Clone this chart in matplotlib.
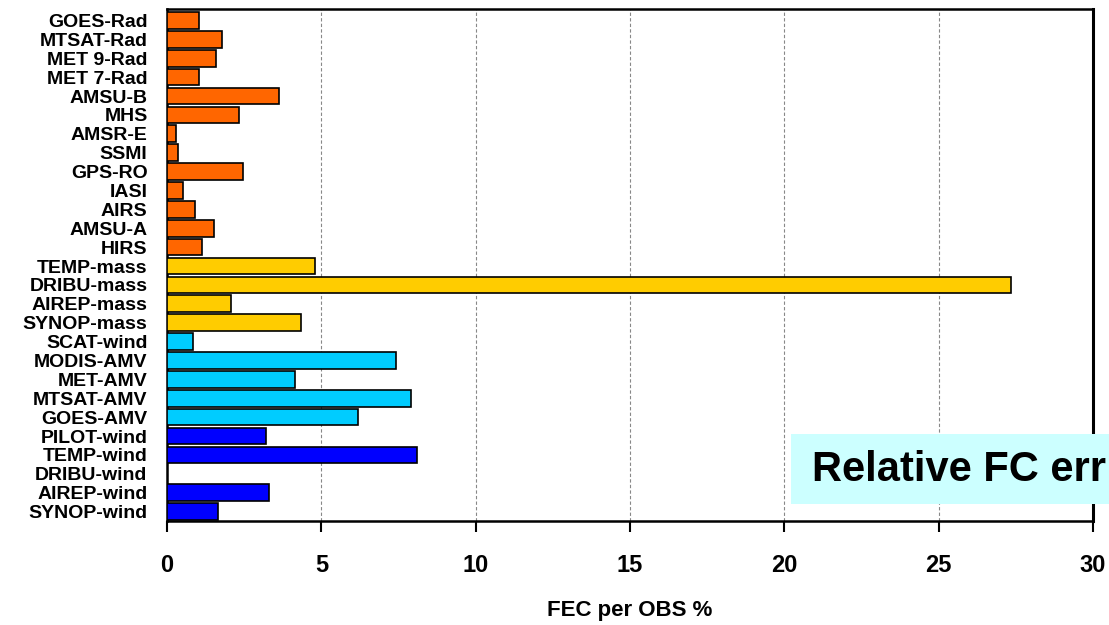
import matplotlib
matplotlib.use("Agg")
import matplotlib.pyplot as plt
from matplotlib.patches import Rectangle
import numpy as np

plt.rcParams['font.family'] = ['Liberation Sans', 'DejaVu Sans']
plt.rcParams['font.weight'] = 'bold'

# observation types, top to bottom
labels = ['GOES-Rad', 'MTSAT-Rad', 'MET 9-Rad', 'MET 7-Rad', 'AMSU-B', 'MHS',
          'AMSR-E', 'SSMI', 'GPS-RO', 'IASI', 'AIRS', 'AMSU-A', 'HIRS',
          'TEMP-mass', 'DRIBU-mass', 'AIREP-mass', 'SYNOP-mass',
          'SCAT-wind', 'MODIS-AMV', 'MET-AMV', 'MTSAT-AMV', 'GOES-AMV',
          'PILOT-wind', 'TEMP-wind', 'DRIBU-wind', 'AIREP-wind', 'SYNOP-wind']
fec = [1.04, 1.77, 1.59, 1.04, 3.62, 2.32,
       0.29, 0.36, 2.45, 0.53, 0.91, 1.52, 1.14,
       4.78, 27.33, 2.07, 4.35,
       0.84, 7.41, 4.16, 7.9, 6.2,
       3.2, 8.1, 0.0, 3.31, 1.65]
groups = ['sat'] * 13 + ['mass'] * 4 + ['amv'] * 5 + ['wind'] * 5
group_colors = {'sat': '#FF6600', 'mass': '#FFCC00', 'amv': '#00CCFF', 'wind': '#0000FF'}

fig = plt.figure(figsize=(11.09, 6.25), dpi=100)
ax = fig.add_axes([0.1506, 0.1664, 0.835, 0.819])

y = np.arange(len(labels))
colors = [group_colors[g] for g in groups]
ax.barh(y, fec, height=0.88, color=colors, edgecolor='black', linewidth=1.2, zorder=3)

ax.set_xlim(0, 30)
ax.set_ylim(len(labels) - 0.5, -0.6)
ax.set_xticks(np.arange(0, 31, 5))
ax.set_yticks(y)
ax.set_yticklabels(labels, fontsize=14, fontweight='bold')
ax.tick_params(axis='y', length=0, pad=14)
ax.tick_params(axis='x', direction='out', length=8, width=1.5, labelsize=17, pad=16)
for t in ax.get_xticklabels():
    t.set_fontweight('bold')
ax.xaxis.grid(True, color='#888888', linestyle='--', linewidth=0.8, dashes=(3, 2))
ax.set_axisbelow(True)
for s in ax.spines.values():
    s.set_linewidth(1.8)
ax.spines['right'].set_linewidth(2.2)

ax.set_xlabel('FEC per OBS %', fontsize=16, fontweight='bold', labelpad=16)

# annotation box (clipped at the right edge as in the original)
box = Rectangle((0.713, 0.1936), 0.35, 0.112, transform=fig.transFigure,
                facecolor='#CCFFFF', edgecolor='none', zorder=5)
fig.add_artist(box)
fig.text(0.732, 0.248, 'Relative FC err', fontsize=30, fontweight='bold',
         va='center', ha='left', zorder=6)

fig.savefig('out.png', dpi=100)
